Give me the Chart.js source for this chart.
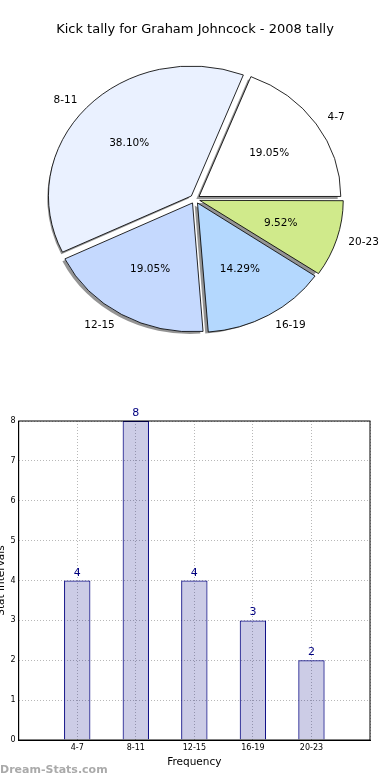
<!DOCTYPE html>
<html>
<head>
<meta charset="utf-8">
<script src="https://cdn.jsdelivr.net/npm/chart.js@4.4.1/dist/chart.umd.min.js"></script>
<style>
  html, body { margin: 0; padding: 0; background: #fff; overflow: hidden; }
  body { width: 390px; height: 780px; position: relative; }
  #pieChart { position: absolute; left: 0; top: 0; }
  #barChart { position: absolute; left: -6px; top: 380px; }
  .watermark { position: absolute; left: 0; top: 763px; font: bold 11px "DejaVu Sans"; color: #aaa; }
</style>
</head>
<body>
<canvas id="pieChart" width="390" height="350"></canvas>
<canvas id="barChart" width="396" height="400"></canvas>
<div class="watermark">Dream-Stats.com</div>
<script>
const categories = ["4-7", "8-11", "12-15", "16-19", "20-23"];
const kickCounts = [4, 8, 4, 3, 2];
const sliceColors = ["#ffffff", "#eaf1ff", "#c5d9fe", "#b4d8fe", "#d0ea8b"];
const yTicks = [0, 1, 2, 3, 4, 5, 6, 7, 8];

const FONT = "'DejaVu Sans', sans-serif";
Chart.defaults.font.family = FONT;
Chart.defaults.color = "#000";

const STRETCH = 1.1;   // source pie is a little wider than tall
const EXPLODE = 4.5;   // px, chart.js moves a slice by offset / 4

// squash the pie into an oval + draw the drop shadows under it
const ovalPie = {
    id: "ovalPie",
    beforeDatasetsDraw(chart) {
        const ctx = chart.ctx;
        const arcs = chart.getDatasetMeta(0).data;
        const cx = arcs[0].x;
        ctx.save();
        ctx.translate(cx, 0);
        ctx.scale(STRETCH, 1);
        ctx.translate(-cx, 0);
        ctx.fillStyle = "rgba(60,60,60,0.55)";
        arcs.forEach(arc => {
            const mid = (arc.startAngle + arc.endAngle) / 2;
            const x = arc.x + Math.cos(mid) * EXPLODE - 2.5;
            const y = arc.y + Math.sin(mid) * EXPLODE + 2.5;
            ctx.beginPath();
            ctx.moveTo(x, y);
            ctx.arc(x, y, arc.outerRadius, arc.startAngle, arc.endAngle);
            ctx.closePath();
            ctx.fill();
        });
    },
    afterDatasetsDraw(chart) {
        chart.ctx.restore();
    }
};

// percent inside, category name outside
const pieLabels = {
    id: "pieLabels",
    afterDraw(chart) {
        const ctx = chart.ctx;
        const arcs = chart.getDatasetMeta(0).data;
        const values = chart.data.datasets[0].data;
        const total = values.reduce((a, b) => a + b, 0);
        ctx.save();
        ctx.font = "10.5px " + FONT;
        ctx.fillStyle = "#000";
        ctx.textBaseline = "middle";
        arcs.forEach((arc, i) => {
            const mid = (arc.startAngle + arc.endAngle) / 2;
            const cos = Math.cos(mid), sin = Math.sin(mid);
            const at = k => [
                arc.x + cos * (EXPLODE + k * arc.outerRadius) * STRETCH,
                arc.y + sin * (EXPLODE + k * arc.outerRadius)
            ];
            let [px, py] = at(0.6);
            ctx.textAlign = "center";
            ctx.fillText((values[i] / total * 100).toFixed(2) + "%", px, py);
            [px, py] = at(1.1);
            ctx.textAlign = cos > 0 ? "left" : "right";
            ctx.fillText(chart.data.labels[i], px, py);
        });
        ctx.restore();
    }
};

new Chart(document.getElementById("pieChart"), {
    type: "pie",
    data: {
        // matplotlib goes counter-clockwise from east, chart.js clockwise
        labels: [...categories].reverse(),
        datasets: [{
            data: [...kickCounts].reverse(),
            backgroundColor: [...sliceColors].reverse(),
            borderColor: "#000",
            borderWidth: 0.8,
            offset: EXPLODE * 4,
            hoverOffset: 0,
            radius: 128.5,
            clip: false,
        }],
    },
    options: {
        responsive: false,
        animation: false,
        rotation: 90,
        layout: { padding: { top: 0, bottom: 13 } },
        plugins: {
            legend: { display: false },
            tooltip: { enabled: false },
            title: {
                display: true,
                text: "Kick tally for Graham Johncock - 2008 tally",
                font: { size: 13, weight: "normal", family: FONT },
                color: "#000",
                padding: { top: 21.5, bottom: 24 },
            },
        },
    },
    plugins: [ovalPie, pieLabels],
});

// value on top of every bar
const barValues = {
    id: "barValues",
    afterDatasetsDraw(chart) {
        const ctx = chart.ctx;
        const values = chart.data.datasets[0].data;
        ctx.save();
        ctx.font = "11px " + FONT;
        ctx.fillStyle = "#000080";
        ctx.textAlign = "center";
        chart.getDatasetMeta(0).data.forEach((bar, i) => {
            if (values[i] == null) return;
            ctx.fillText(values[i], bar.x, bar.y - 5);
        });
        ctx.restore();
    }
};

// full box round the plot, like matplotlib spines
const frame = {
    id: "frame",
    afterDraw(chart) {
        const { ctx, chartArea: a } = chart;
        ctx.save();
        ctx.strokeStyle = "#000";
        ctx.lineWidth = 1;
        ctx.strokeRect(a.left, a.top, a.right - a.left, a.bottom - a.top);
        ctx.restore();
    }
};

new Chart(document.getElementById("barChart"), {
    type: "bar",
    data: {
        labels: ["", ...categories, ""],
        datasets: [{
            data: [null, ...kickCounts, null],
            backgroundColor: "rgba(0,0,128,0.2)",
            borderColor: "#000080",
            borderWidth: 1,
            barPercentage: 0.45,
            categoryPercentage: 1,
        }],
    },
    options: {
        responsive: false,
        animation: false,
        layout: { padding: { top: 41, right: 20, bottom: 11.8, left: 0 } },
        scales: {
            x: {
                offset: false,
                grid: { color: "#b8b8b8", drawTicks: false, offset: false },
                border: { color: "#000", dash: [1, 2] },
                ticks: { font: { size: 8 }, color: "#000", padding: 3, maxRotation: 0, autoSkip: false },
                title: { display: true, text: "Frequency", font: { size: 10.5 }, color: "#000", padding: { top: 0, bottom: 0 } },
            },
            y: {
                min: yTicks[0],
                max: yTicks[yTicks.length - 1],
                grid: { color: "#b8b8b8", drawTicks: false },
                border: { color: "#000", dash: [1, 2] },
                ticks: { stepSize: 1, font: { size: 8 }, color: "#000", padding: 3 },
                title: { display: true, text: "Stat Intervals", font: { size: 10.5 }, color: "#000", padding: { top: 0.5, bottom: 0.5 } },
            },
        },
        plugins: {
            legend: { display: false },
            tooltip: { enabled: false },
        },
    },
    plugins: [barValues, frame],
});
</script>
</body>
</html>
